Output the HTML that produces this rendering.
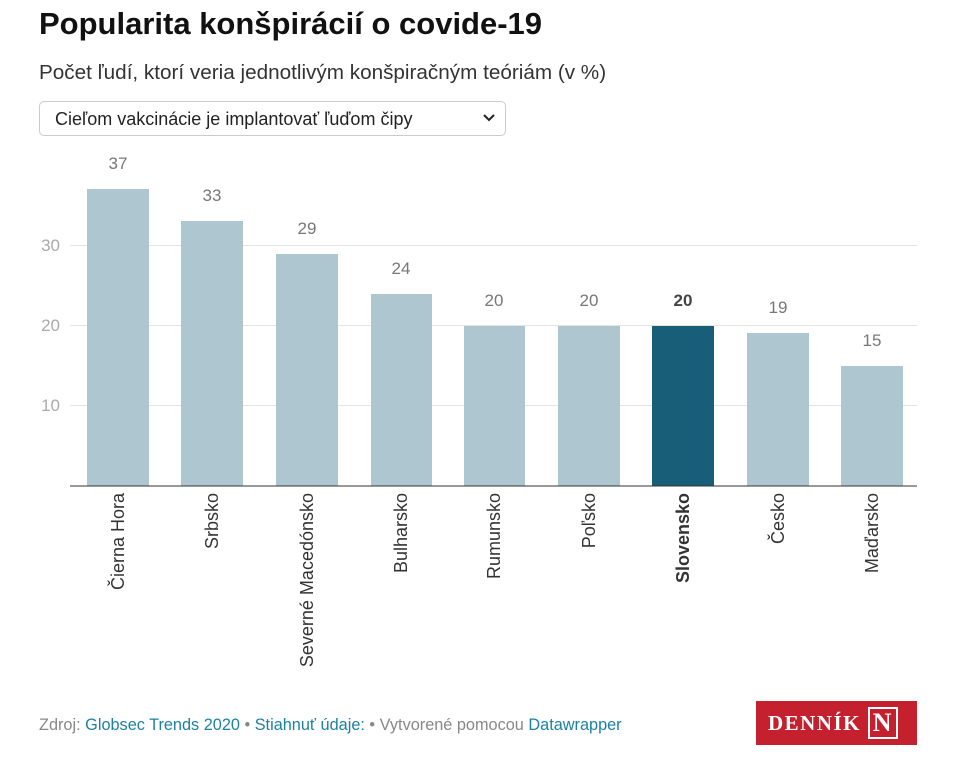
<!DOCTYPE html>
<html><head><meta charset="utf-8"><style>
body{margin:0;background:#fff;font-family:"Liberation Sans",sans-serif;width:975px;height:762px;overflow:hidden;position:relative}
h1{position:absolute;left:39px;top:6px;margin:0;font-size:31px;font-weight:bold;color:#111}
.sub{position:absolute;left:39px;top:61px;font-size:20.7px;color:#333}
.sel{position:absolute;left:39px;top:101px;width:467px;height:35px;border:1px solid #ccc;border-radius:5px;box-sizing:border-box;font-size:18px;color:#222;line-height:34px;padding-left:15px}
.foot{position:absolute;left:39px;top:716px;font-size:16.3px;color:#888}
.foot a{color:#1d81a2;text-decoration:none}
.logo{position:absolute;left:756px;top:701px;width:161px;height:44px;background:#c4202e;color:#fff;font-family:"Liberation Serif",serif;font-weight:bold;font-size:21px;letter-spacing:1.5px;line-height:44px;box-sizing:border-box;padding-left:12px}
</style></head><body>
<h1>Popularita konšpirácií o covide-19</h1>
<div class="sub">Počet ľudí, ktorí veria jednotlivým konšpiračným teóriám (v %)</div>
<div class="sel">Cieľom vakcinácie je implantovať ľuďom čipy<svg style="position:absolute;right:10px;top:12px" width="12" height="9"><path d="M1 1 L6 6 L11 1" stroke="#222" stroke-width="2" fill="none"/></svg></div>
<svg style="position:absolute;left:0;top:0" width="975" height="700" font-family="Liberation Sans, sans-serif">
<g stroke="#e3e3e3" stroke-width="1"><line x1="70" x2="917" y1="245.5" y2="245.5"/><line x1="70" x2="917" y1="325.5" y2="325.5"/><line x1="70" x2="917" y1="405.5" y2="405.5"/></g>
<g font-size="17" fill="#aaa" text-anchor="end"><text x="60" y="251">30</text><text x="60" y="331">20</text><text x="60" y="411">10</text></g>
<g fill="#aec6cf">
<rect x="87" y="189" width="62" height="297"/><rect x="181" y="221" width="62" height="265"/><rect x="276" y="254" width="62" height="232"/><rect x="371" y="294" width="61" height="192"/><rect x="464" y="326" width="61" height="160"/><rect x="558" y="326" width="62" height="160"/><rect x="652" y="326" width="62" height="160" fill="#185e79"/><rect x="747" y="333" width="62" height="153"/><rect x="841" y="366" width="62" height="120"/>
</g>
<line x1="70" x2="917" y1="486" y2="486" stroke="#333" stroke-width="1"/>
<g font-size="17" fill="#777" text-anchor="middle">
<text x="118" y="169">37</text><text x="212" y="201">33</text><text x="307" y="234">29</text><text x="401" y="274">24</text><text x="494" y="306">20</text><text x="589" y="306">20</text><text x="683" y="306" font-weight="bold" fill="#444">20</text><text x="778" y="313">19</text><text x="872" y="346">15</text>
</g>
<g font-size="18" fill="#333" text-anchor="end">
<text transform="translate(124,493) rotate(-90)">Čierna Hora</text>
<text transform="translate(218,493) rotate(-90)">Srbsko</text>
<text transform="translate(313,493) rotate(-90)">Severné Macedónsko</text>
<text transform="translate(407,493) rotate(-90)">Bulharsko</text>
<text transform="translate(500,493) rotate(-90)">Rumunsko</text>
<text transform="translate(595,493) rotate(-90)">Poľsko</text>
<text transform="translate(689,493) rotate(-90)" font-weight="bold">Slovensko</text>
<text transform="translate(784,493) rotate(-90)">Česko</text>
<text transform="translate(878,493) rotate(-90)">Maďarsko</text>
</g>
</svg>
<div class="foot">Zdroj: <a>Globsec Trends 2020</a> • <a>Stiahnuť údaje:</a> • Vytvorené pomocou <a>Datawrapper</a></div>
<div class="logo">DENNÍK <span style="display:inline-block;border:2px solid #fff;padding:0 3px;line-height:28px;font-size:26px;vertical-align:middle;margin-top:-4px">N</span></div>
</body></html>
